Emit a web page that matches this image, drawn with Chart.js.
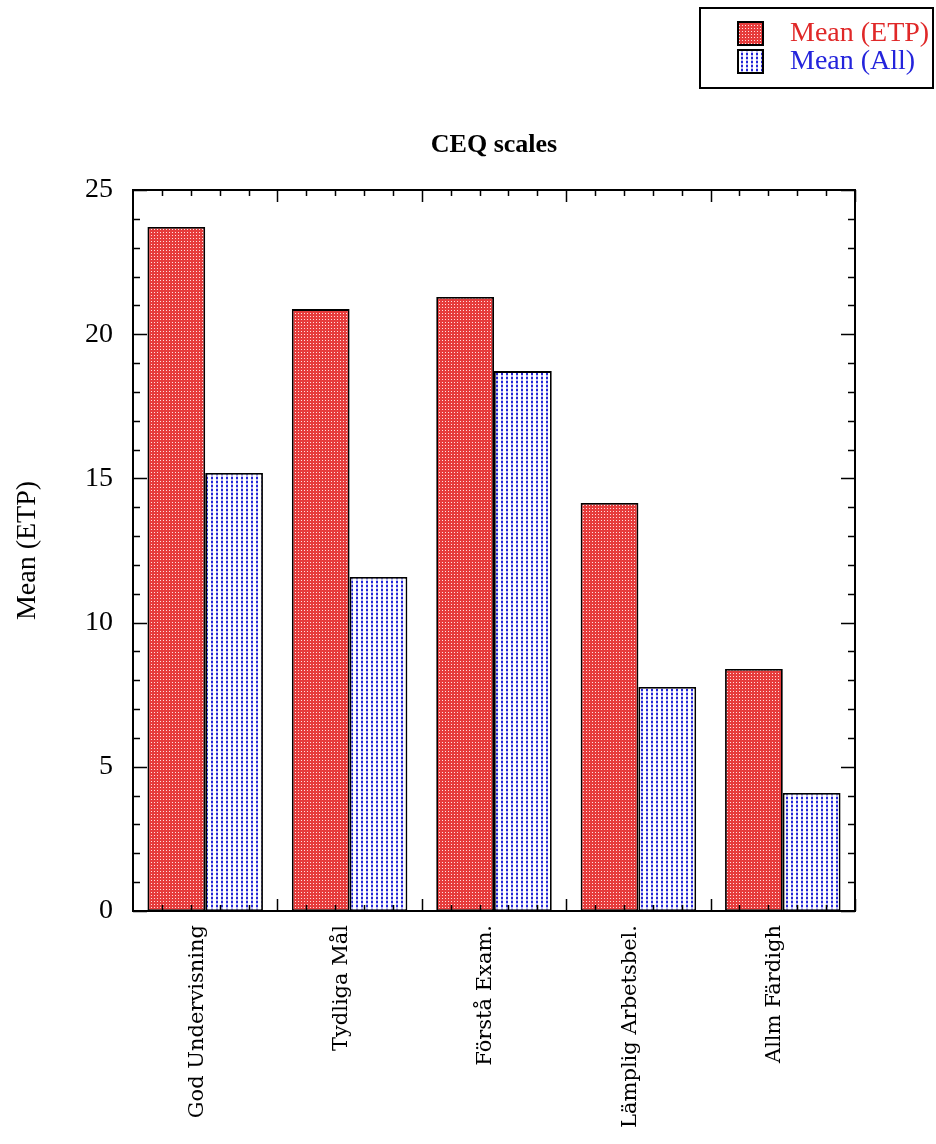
<!DOCTYPE html>
<html>
<head>
<meta charset="utf-8">
<script src="https://cdn.jsdelivr.net/npm/chart.js@4.4.1/dist/chart.umd.min.js"></script>
<style>
  body { margin: 0; background: #fff; }
  #wrap { width: 936px; height: 1144px; }
</style>
</head>
<body>
<div id="wrap"><canvas id="ceq" width="936" height="1144"></canvas></div>
<script>
// data
const kategorier = ['God Undervisning', 'Tydliga Mål', 'Förstå Exam.', 'Lämplig Arbetsbel.', 'Allm Färdigh'];
const meanETP = [23.72, 20.87, 21.29, 14.15, 8.39];
const meanAll = [15.19, 11.58, 18.72, 7.77, 4.09];
const serieNamn = ['Mean (ETP)', 'Mean (All)'];
const diagramTitel = 'CEQ scales';
const yTicks = [0, 5, 10, 15, 20, 25];

// dotted fills like the original
function makePattern(w, h, draw) {
    const c = document.createElement('canvas');
    c.width = w; c.height = h;
    const g = c.getContext('2d');
    draw(g);
    return document.getElementById('ceq').getContext('2d').createPattern(c, 'repeat');
}
const rodFyll = makePattern(3, 3, g => {
    g.fillStyle = '#e63c3c'; g.fillRect(0, 0, 3, 3);
    g.fillStyle = '#ffe0e0'; g.fillRect(1, 1, 1, 1);
});
const blaFyll = makePattern(5, 4, g => {
    g.fillStyle = '#ffffff'; g.fillRect(0, 0, 5, 4);
    g.fillStyle = '#bcbcf2'; g.fillRect(1, 0, 2, 4);
    g.fillStyle = '#2424d8'; g.fillRect(1, 1, 2, 2);
});
const textFarger = ['#e02828', '#2424dc'];

// frame, inward ticks, title and legend box
const ramPlugin = {
    id: 'ram',
    afterDatasetsDraw(chart) {
        const ctx = chart.ctx;
        const a = chart.chartArea;
        const x = chart.scales.x, y = chart.scales.y;
        ctx.save();
        ctx.strokeStyle = '#000';
        ctx.lineWidth = 1.5;
        ctx.beginPath();
        for (let v = 0; v <= 25; v++) {
            const py = Math.round(y.getPixelForValue(v)) + 0.5;
            const len = v % 5 === 0 ? 14 : 7;
            ctx.moveTo(a.left, py); ctx.lineTo(a.left + len, py);
            ctx.moveTo(a.right, py); ctx.lineTo(a.right - len, py);
        }
        const steg = x.getPixelForValue(1) - x.getPixelForValue(0);
        for (let i = 0; i < kategorier.length; i++) {
            const start = x.getPixelForValue(i) - steg / 2;
            for (let k = 1; k <= 5; k++) {
                const px = Math.round(start + k * steg / 5) + 0.5;
                const len = k === 5 ? 12 : 6;
                ctx.moveTo(px, a.bottom); ctx.lineTo(px, a.bottom - len);
                ctx.moveTo(px, a.top); ctx.lineTo(px, a.top + len);
            }
        }
        ctx.stroke();
        ctx.lineWidth = 2;
        ctx.strokeRect(a.left, a.top, a.right - a.left, a.bottom - a.top);
        ctx.restore();
    },
    afterDraw(chart) {
        const ctx = chart.ctx;
        const a = chart.chartArea;
        ctx.save();
        // titel centrerad över plotytan
        ctx.fillStyle = '#000';
        ctx.font = 'bold 26px "Liberation Serif", serif';
        ctx.textAlign = 'center';
        ctx.textBaseline = 'middle';
        ctx.fillText(diagramTitel, (a.left + a.right) / 2, 145);

        ctx.textAlign = 'left';
        ctx.strokeStyle = '#000';
        ctx.lineWidth = 2;
        ctx.strokeRect(700, 8, 233, 80);
        chart.data.datasets.forEach((ds, i) => {
            const ty = 22 + i * 28;
            ctx.fillStyle = ds.backgroundColor;
            ctx.fillRect(738, ty, 25, 23);
            ctx.strokeRect(738, ty, 25, 23);
            ctx.fillStyle = textFarger[i];
            ctx.font = '28px "Liberation Serif", serif';
            ctx.fillText(ds.label, 790, ty + 12);
        });
        ctx.restore();
    }
};

new Chart(document.getElementById('ceq'), {
    type: 'bar',
    data: {
        labels: kategorier,
        datasets: [
            { label: serieNamn[0], data: meanETP, backgroundColor: rodFyll },
            { label: serieNamn[1], data: meanAll, backgroundColor: blaFyll }
        ]
    },
    options: {
        responsive: false,
        animation: false,
        layout: { padding: { left: 0, right: 81, top: 190, bottom: 0 } },
        datasets: {
            bar: {
                categoryPercentage: 0.8,
                barPercentage: 1.0,
                borderColor: '#000',
                borderWidth: 1.8,
                borderSkipped: false
            }
        },
        plugins: {
            legend: { display: false },
            tooltip: { enabled: false },
            title: { display: false }
        },
        scales: {
            x: {
                grid: { display: false, drawTicks: false },
                border: { display: false },
                afterFit(s) { s.height = 233; },
                ticks: {
                    color: '#000',
                    minRotation: 90,
                    maxRotation: 90,
                    padding: 14,
                    labelOffset: -8,
                    autoSkip: false,
                    font: { family: '"DejaVu Serif", serif', size: 21 }
                }
            },
            y: {
                min: 0,
                max: 25,
                afterFit(s) { s.width = 133; },
                afterBuildTicks(s) { s.ticks = yTicks.map(v => ({ value: v })); },
                grid: { display: false, drawTicks: false },
                border: { display: false },
                ticks: {
                    color: '#000',
                    padding: 20,
                    font: { family: '"Liberation Serif", serif', size: 28 }
                },
                title: {
                    display: true,
                    text: serieNamn[0],
                    color: '#000',
                    padding: { top: 11, bottom: 0 },
                    font: { family: '"Liberation Serif", serif', size: 28 }
                }
            }
        }
    },
    plugins: [ramPlugin]
});
</script>
</body>
</html>
